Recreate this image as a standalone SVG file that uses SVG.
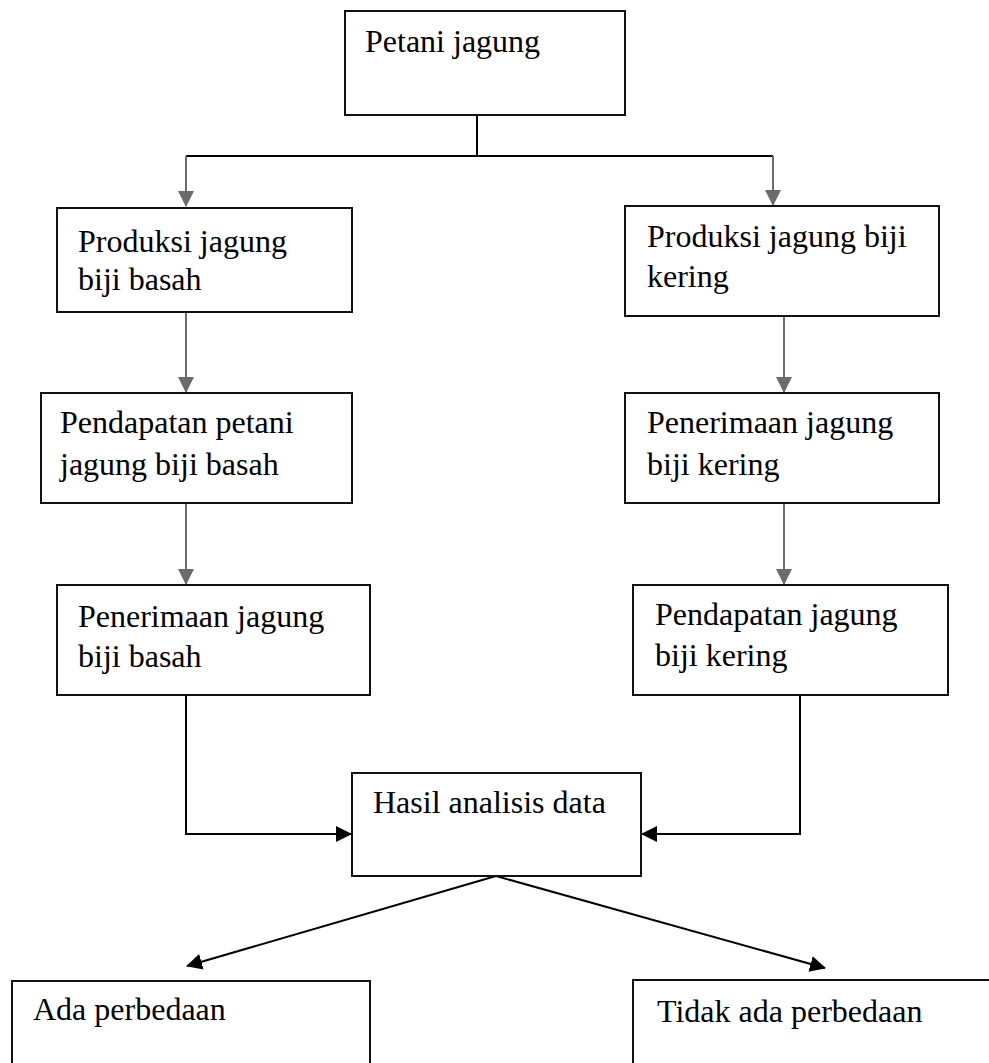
<svg xmlns="http://www.w3.org/2000/svg" width="989" height="1063" viewBox="0 0 989 1063">
<style>
.box{fill:#fff;stroke:#111;stroke-width:2}
.t{font-family:"Liberation Serif","Times New Roman",serif;font-size:32px;fill:#000}
.g{fill:none;stroke:#6b6b6b;stroke-width:2}
.k{fill:none;stroke:#000;stroke-width:2}
</style>
<defs>
<marker id="ag" markerUnits="userSpaceOnUse" markerWidth="16" markerHeight="16" refX="15" refY="8" orient="auto" viewBox="0 0 16 16"><path d="M0,0 L16,8 L0,16 z" fill="#6b6b6b"/></marker>
<marker id="ak" markerUnits="userSpaceOnUse" markerWidth="16" markerHeight="16" refX="15" refY="8" orient="auto" viewBox="0 0 16 16"><path d="M0,0 L16,8 L0,16 z" fill="#000"/></marker>
</defs>
<rect width="989" height="1063" fill="#fff"/>
<g id="connectors">
<path class="k" d="M477,115 V156 M186,156 H773"/>
<path class="g" d="M186,156 V206" marker-end="url(#ag)"/>
<path class="g" d="M773,156 V205" marker-end="url(#ag)"/>
<path class="g" d="M186,312 V392" marker-end="url(#ag)"/>
<path class="g" d="M784,316 V392" marker-end="url(#ag)"/>
<path class="g" d="M186,503 V584" marker-end="url(#ag)"/>
<path class="g" d="M784,503 V584" marker-end="url(#ag)"/>
<path class="k" d="M186,695 V834 H351" marker-end="url(#ak)"/>
<path class="k" d="M800,695 V834 H642" marker-end="url(#ak)"/>
<path class="k" d="M496,876 L187,966" marker-end="url(#ak)"/>
<path class="k" d="M496,876 L825,968" marker-end="url(#ak)"/>
</g>
<g id="n-petani"><rect class="box" x="345" y="11" width="280" height="104"/><text class="t" x="365" y="52">Petani jagung</text></g>
<g id="n-prod-basah"><rect class="box" x="57" y="208" width="295" height="104"/><text class="t" x="78" y="252">Produksi jagung</text><text class="t" x="78" y="290">biji basah</text></g>
<g id="n-prod-kering"><rect class="box" x="625" y="206" width="314" height="110"/><text class="t" x="647" y="247">Produksi jagung biji</text><text class="t" x="647" y="287">kering</text></g>
<g id="n-pend-basah"><rect class="box" x="41" y="393" width="311" height="110"/><text class="t" x="60" y="433">Pendapatan petani</text><text class="t" x="60" y="475">jagung biji basah</text></g>
<g id="n-pen-kering"><rect class="box" x="625" y="393" width="314" height="110"/><text class="t" x="647" y="433">Penerimaan jagung</text><text class="t" x="647" y="475">biji kering</text></g>
<g id="n-pen-basah"><rect class="box" x="57" y="585" width="313" height="110"/><text class="t" x="78" y="627">Penerimaan jagung</text><text class="t" x="78" y="667">biji basah</text></g>
<g id="n-pend-kering"><rect class="box" x="633" y="585" width="315" height="110"/><text class="t" x="655" y="625">Pendapatan jagung</text><text class="t" x="655" y="666">biji kering</text></g>
<g id="n-hasil"><rect class="box" x="352" y="773" width="289" height="103"/><text class="t" x="373" y="813">Hasil analisis data</text></g>
<g id="n-ada"><rect class="box" x="12" y="981" width="358" height="100"/><text class="t" x="33" y="1020">Ada perbedaan</text></g>
<g id="n-tidak"><rect class="box" x="633" y="980" width="380" height="100"/><text class="t" x="657" y="1022">Tidak ada perbedaan</text></g>
</svg>
